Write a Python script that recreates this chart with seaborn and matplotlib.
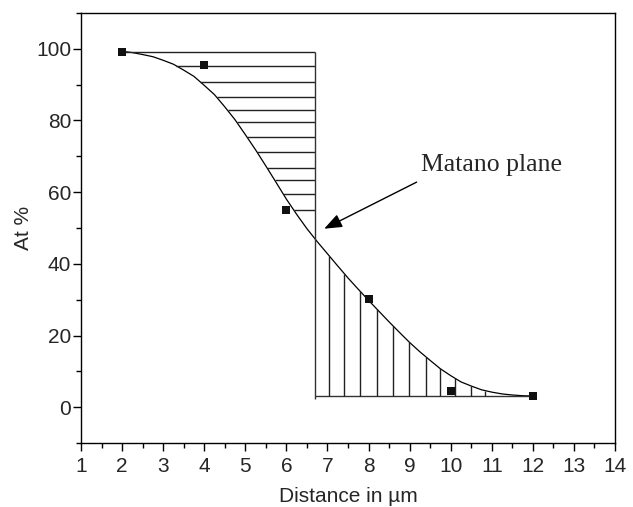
import numpy as np
import pandas as pd
import matplotlib
matplotlib.use("Agg")
import matplotlib.pyplot as plt
from matplotlib.ticker import MultipleLocator
import seaborn as sns

# Measured data points
dist_pts = [2, 4, 6, 8, 10, 12]
at_pts = [99.2, 95.6, 55.0, 30.1, 4.5, 3.1]

# Fitted curve
curve_x = [2.0, 2.25, 2.5, 2.75, 3.0, 3.25, 3.5, 3.75, 4.0, 4.25, 4.5, 4.75,
           5.0, 5.25, 5.5, 5.75, 6.0, 6.25, 6.5, 6.75, 7.0, 7.25, 7.5, 7.75,
           8.0, 8.25, 8.5, 8.75, 9.0, 9.25, 9.5, 9.75, 10.0, 10.25, 10.5,
           10.75, 11.0, 11.25, 11.5, 11.75, 12.0]
curve_y = [99.3, 98.95, 98.4, 97.8, 96.8, 95.7, 94.05, 92.3, 89.8, 87.2, 83.8,
           80.2, 76.05, 71.8, 67.3, 62.7, 58.05, 53.8, 49.8, 46.2, 42.8, 39.4,
           36.05, 32.9, 29.8, 26.8, 23.8, 20.9, 18.05, 15.45, 13.05, 10.7, 8.8,
           7.05, 5.9, 4.85, 4.2, 3.7, 3.4, 3.2, 3.1]

# Matano plane and hatching
matano_x = 6.69
top_level = 99.0
base_level = 3.1
base_end = 11.9
h_levels = [95.3, 90.8, 86.5, 82.8, 79.6, 75.3, 71.2, 66.8, 63.3, 59.6, 55.0]
v_positions = [7.04, 7.41, 7.78, 8.21, 8.60, 8.98, 9.39, 9.73, 10.10, 10.49, 10.83]

x_ticks = list(range(1, 15))
y_ticks = [0, 20, 40, 60, 80, 100]

sns.set_theme(style="ticks")
plt.rcParams['font.family'] = ['Liberation Sans', 'DejaVu Sans']

fig = plt.figure(figsize=(6.33, 5.07), dpi=100)
ax = fig.add_axes([0.128, 0.1262, 0.8436, 0.8482])

df_curve = pd.DataFrame({"x": curve_x, "y": curve_y})
df_pts = pd.DataFrame({"x": dist_pts, "y": at_pts})

sns.lineplot(data=df_curve, x="x", y="y", ax=ax, color="black", lw=0.9,
             sort=False, estimator=None)

cx = np.array(curve_x)
cy = np.array(curve_y)
# left ends of horizontal hatch lines lie on the curve (curve decreasing)
h_left = np.interp(h_levels, cy[::-1], cx[::-1])
ax.hlines([top_level], dist_pts[0], matano_x, color="#222222", lw=1.0)
ax.hlines(h_levels, h_left, matano_x, color="#222222", lw=1.0)
ax.vlines([matano_x], 2.2, top_level, color="#333333", lw=1.0)
ax.hlines([base_level], matano_x, base_end, color="#333333", lw=1.0)
v_top = np.interp(v_positions, cx, cy)
ax.vlines(v_positions, base_level, v_top, color="#222222", lw=1.0)

sns.scatterplot(data=df_pts, x="x", y="y", ax=ax, marker="s", s=38,
                color="#111111", edgecolor="#111111", linewidth=0, zorder=5)

ax.annotate("", xy=(6.92, 49.8), xytext=(9.17, 62.8),
            arrowprops=dict(arrowstyle="-|>,head_length=0.9,head_width=0.35",
                            color="black", lw=1.0, shrinkA=0, shrinkB=0))
ax.text(9.28, 65.8, "Matano plane", fontsize=18.5, family="Liberation Serif",
        ha="left", va="baseline")

ax.set_xlim(1, 14)
ax.set_ylim(-10, 110)
ax.set_xticks(x_ticks)
ax.set_yticks(y_ticks)
ax.xaxis.set_minor_locator(MultipleLocator(0.5))
ax.yaxis.set_minor_locator(MultipleLocator(10))
ax.tick_params(axis="both", which="major", direction="out", length=6,
               width=1.0, labelsize=15, color="black")
ax.tick_params(axis="both", which="minor", direction="out", length=3.5,
               width=1.0, color="black")
ax.tick_params(axis="y", which="major", pad=1)
ax.tick_params(axis="x", which="major", pad=4)
ax.tick_params(top=False, right=False, which="both")
for sp in ax.spines.values():
    sp.set_visible(True)
    sp.set_linewidth(1.0)
    sp.set_color("black")

ax.set_xlabel("Distance in µm", fontsize=15, labelpad=8)
ax.set_ylabel("At %", fontsize=15, labelpad=2)

fig.savefig("out.png", dpi=100)
